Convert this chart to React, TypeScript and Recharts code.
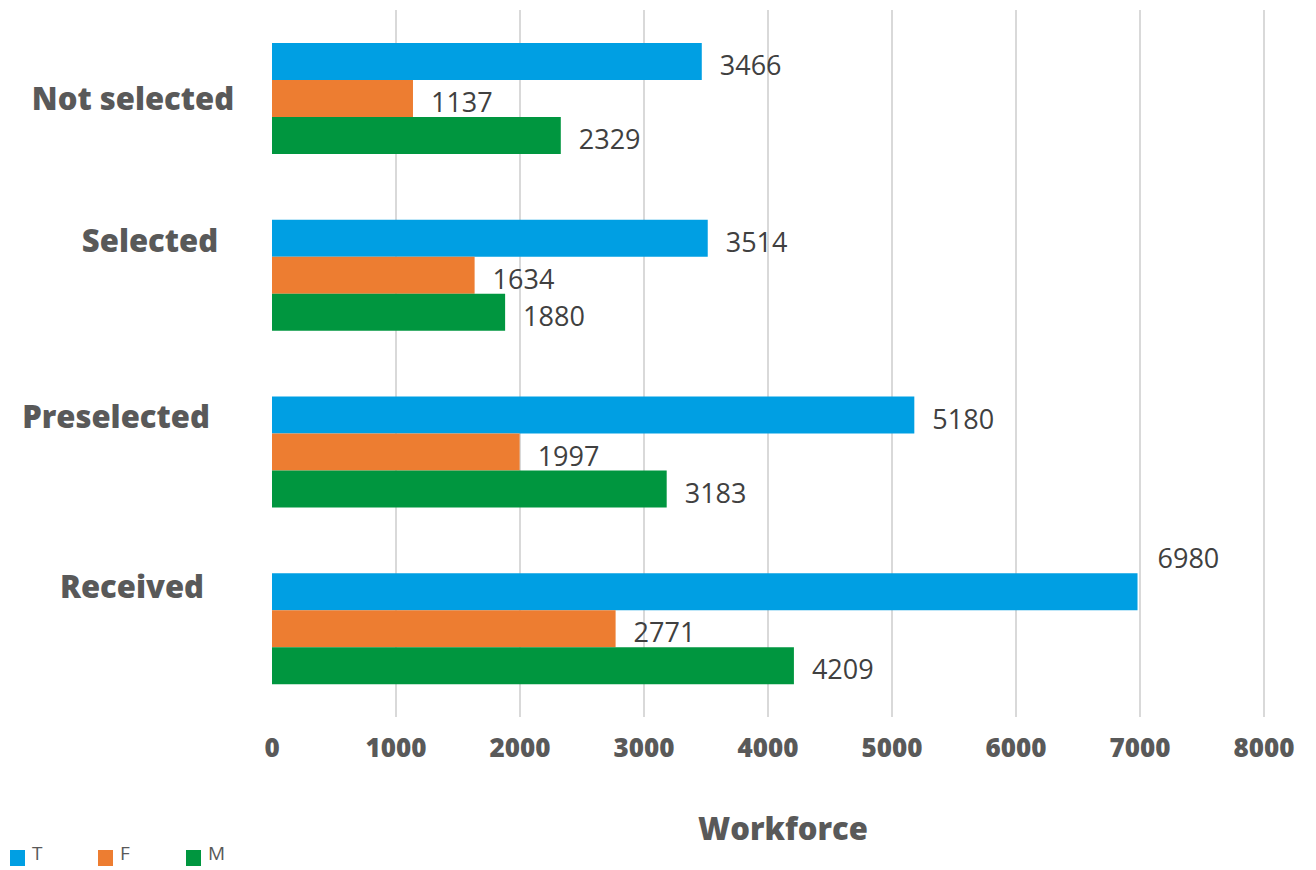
import { BarChart, Bar, XAxis, YAxis, CartesianGrid, Legend, LabelList, Label } from 'recharts';

// stages, top to bottom
const stages = ['Not selected', 'Selected', 'Preselected', 'Received'];
const totalT = [3466, 3514, 5180, 6980];
const femaleF = [1137, 1634, 1997, 2771];
const maleM = [2329, 1880, 3183, 4209];
const xTicks = [0, 1000, 2000, 3000, 4000, 5000, 6000, 7000, 8000];

const COLORS = { T: '#009fe3', F: '#ed7d31', M: '#00963f' };
const FONT = '"Open Sans", "Noto Sans", sans-serif';
const AXIS_GREY = '#595959';

// Excel placed the category names by hand, nudge them the same way
const TICK_SHIFT: Record<string, { cx: number; dy: number }> = {
  'Not selected': { cx: 133, dy: 0 },
  Selected: { cx: 150, dy: -35 },
  Preselected: { cx: 116, dy: -36 },
  Received: { cx: 132, dy: -43 },
};

const data = stages.map((name, i) => ({ name, T: totalT[i], F: femaleF[i], M: maleM[i] }));
const maxValue = Math.max(...totalT);

const CategoryTick = ({ y, payload }: { y?: number; payload?: { value: string } }) => {
  const shift = TICK_SHIFT[payload?.value ?? ''] ?? { cx: 130, dy: 0 };
  return (
    <text x={shift.cx} y={(y ?? 0) + shift.dy} textAnchor="middle" dominantBaseline="central" fill={AXIS_GREY} fontFamily={FONT} fontWeight={800} fontSize={31}>
      {payload?.value}
    </text>
  );
};

const ValueLabel = (props: any) => {
  const { x, y, width, height, value } = props;
  const lifted = value === maxValue;
  return (
    <text
      x={x + width + (lifted ? 20 : 18)}
      y={lifted ? y - 16 : y + height / 2 + 3}
      dominantBaseline="central"
      fill="#404040"
      fontFamily={FONT}
      fontSize={27}
    >
      {value}
    </text>
  );
};

const LegendBox = () => (
  <div style={{ display: 'flex', height: 28, alignItems: 'flex-start', fontFamily: FONT, fontSize: 19, lineHeight: '22px', color: AXIS_GREY, paddingLeft: 10 }}>
    {(['T', 'F', 'M'] as const).map((k) => (
      <div key={k} style={{ display: 'flex', alignItems: 'flex-start', width: 88 }}>
        <span style={{ width: 15, height: 16, background: COLORS[k], marginTop: 8, marginRight: 7 }} />
        <span>{k}</span>
      </div>
    ))}
  </div>
);

export default function App() {
  return (
    <div style={{ position: 'absolute', left: 0, top: 0, background: '#fff' }}>
      <BarChart
        width={1316}
        height={870}
        data={data}
        layout="vertical"
        margin={{ top: 10, right: 52, left: 0, bottom: 0 }}
        barCategoryGap={33}
        barGap={0}
      >
        <CartesianGrid
          horizontal={false}
          stroke="#d9d9d9"
          strokeWidth={2}
          verticalCoordinatesGenerator={({ offset }: any) => xTicks.slice(1).map((t) => offset.left + (t / 8000) * offset.width)}
        />
        <XAxis
          type="number"
          domain={[0, 8000]}
          ticks={xTicks}
          axisLine={false}
          tickLine={false}
          height={125}
          tick={{ fill: AXIS_GREY, fontFamily: FONT, fontWeight: 800, fontSize: 26, dy: 14 }}
        >
          <Label value="Workforce" position="insideBottom" offset={2} dx={15} fill={AXIS_GREY} fontFamily={FONT} fontWeight={800} fontSize={31} />
        </XAxis>
        <YAxis type="category" dataKey="name" width={272} axisLine={false} tickLine={false} tick={<CategoryTick />} interval={0} />
        <Legend verticalAlign="bottom" align="left" content={<LegendBox />} wrapperStyle={{ left: 0, bottom: 0, width: 400 }} />
        <Bar dataKey="T" fill={COLORS.T} isAnimationActive={false}>
          <LabelList dataKey="T" content={<ValueLabel />} />
        </Bar>
        <Bar dataKey="F" fill={COLORS.F} isAnimationActive={false}>
          <LabelList dataKey="F" content={<ValueLabel />} />
        </Bar>
        <Bar dataKey="M" fill={COLORS.M} isAnimationActive={false}>
          <LabelList dataKey="M" content={<ValueLabel />} />
        </Bar>
      </BarChart>
    </div>
  );
}
